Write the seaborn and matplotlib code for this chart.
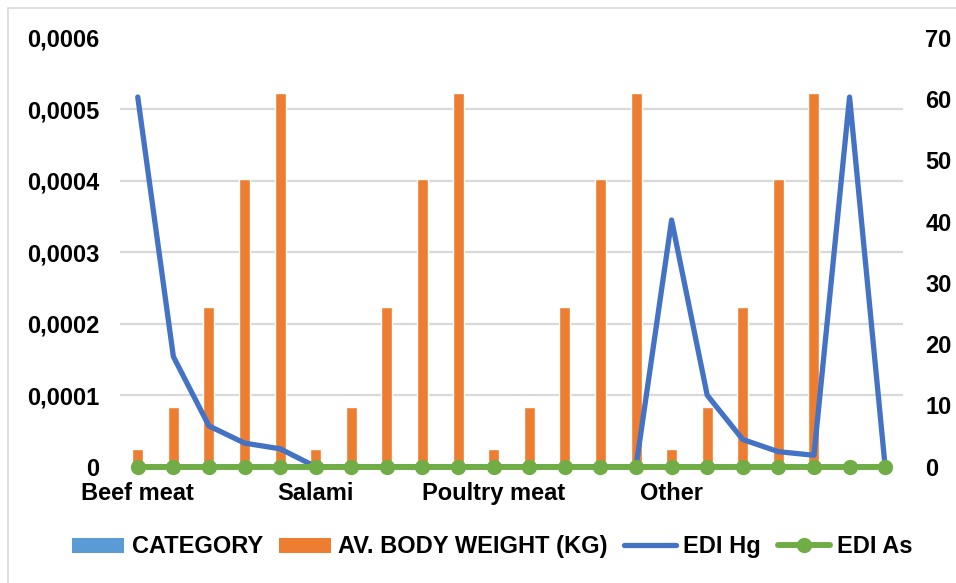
import numpy as np
import pandas as pd
import matplotlib
matplotlib.use("Agg")
import matplotlib.pyplot as plt
from matplotlib.patches import Patch
from matplotlib.lines import Line2D
import seaborn as sns

# Data
category_labels = ["Beef meat", "", "", "", "", "Salami", "", "", "", "",
                   "Poultry meat", "", "", "", "", "Other", "", "", "", "", "", ""]
body_weight = [2.9, 9.8, 26, 47, 61, 2.9, 9.8, 26, 47, 61,
               2.9, 9.8, 26, 47, 61, 2.9, 9.8, 26, 47, 61, np.nan, np.nan]
edi_hg = [0.000517, 0.000154, 0.000057, 0.000033, 0.000025, 0.0, 0.0, 0.0, 0.0, 0.0,
          0.0, 0.0, 0.0, 0.0, 0.0, 0.000345, 0.0001, 0.000038, 0.000021, 0.000016,
          0.000517, 0.0]
edi_as = [0.0] * 22

left_ticks = [0, 0.0001, 0.0002, 0.0003, 0.0004, 0.0005, 0.0006]
left_tick_labels = ["0", "0,0001", "0,0002", "0,0003", "0,0004", "0,0005", "0,0006"]
right_ticks = [0, 10, 20, 30, 40, 50, 60, 70]

ORANGE = "#ED7D31"
BLUE = "#4472C4"
GREEN = "#70AD47"
LIGHTBLUE = "#5B9BD5"
GRID = "#D9D9D9"

sns.set_style("white")
plt.rcParams["font.family"] = ["Liberation Sans", "DejaVu Sans"]
plt.rcParams["font.weight"] = "bold"
plt.rcParams["text.color"] = "black"
plt.rcParams["xtick.color"] = "black"
plt.rcParams["ytick.color"] = "black"

df = pd.DataFrame({
    "pos": np.arange(len(category_labels)),
    "weight": body_weight,
    "hg": edi_hg,
    "as_": edi_as,
})

fig = plt.figure(figsize=(9.56, 5.83), dpi=100)
ax = fig.add_axes([0.1255, 0.1995, 0.819, 0.7358])  # left scale, lines
ax2 = ax.twinx()                                    # right scale, bars

# bars on the right axis
sns.barplot(data=df, x="pos", y="weight", color=ORANGE, width=0.31,
            native_scale=True, saturation=1, ax=ax2)
ax2.set_ylim(0, 70)
ax2.set_yticks(right_ticks)
ax2.set_yticklabels([str(t) for t in right_ticks], fontsize=17, fontweight="bold")
# gridlines belong to the left scale but sit behind the bars
grid_vals = np.array(left_ticks) * 70 / 0.0006
ax2.set_yticks(grid_vals, minor=True)
ax2.yaxis.grid(True, which="minor", color=GRID, linewidth=1.6)
ax2.set_axisbelow(True)
ax2.tick_params(axis="y", which="both", length=0, pad=16)
ax2.set_ylabel("")
ax2.set_xlabel("")

# lines on the left axis, drawn over the bars
ax.set_zorder(ax2.get_zorder() + 1)
ax.patch.set_visible(False)
sns.lineplot(data=df, x="pos", y="hg", color=BLUE, linewidth=3.8, ax=ax,
             solid_capstyle="round", solid_joinstyle="round", clip_on=False, zorder=2)
sns.lineplot(data=df, x="pos", y="as_", color=GREEN, linewidth=4.3, marker="o",
             markersize=11, markeredgewidth=0, ax=ax, clip_on=False, zorder=3)
ax.set_ylim(0, 0.0006)
ax.set_xlim(-0.5, len(category_labels) - 0.5)
ax.set_yticks(left_ticks)
ax.set_yticklabels(left_tick_labels, fontsize=17, fontweight="bold")
ax.set_xticks(df["pos"])
ax.set_xticklabels(category_labels, fontsize=17, fontweight="bold")
ax.tick_params(axis="y", length=0, pad=15)
ax.tick_params(axis="x", length=0, pad=11)
ax.set_xlabel("")
ax.set_ylabel("")
ax2.set_xlim(-0.5, len(category_labels) - 0.5)

for a in (ax, ax2):
    for s in a.spines.values():
        s.set_visible(False)

handles = [
    Patch(facecolor=LIGHTBLUE, edgecolor="none"),
    Patch(facecolor=ORANGE, edgecolor="none"),
    Line2D([], [], color=BLUE, linewidth=3.8, solid_capstyle="round"),
    Line2D([], [], color=GREEN, linewidth=4.3, marker="o", markersize=11, markeredgewidth=0),
]
labels = ["CATEGORY", "AV. BODY WEIGHT (KG)", "EDI Hg", "EDI As"]
fig.legend(handles, labels, loc="center", bbox_to_anchor=(0.515, 0.062), ncol=4,
           frameon=False, fontsize=17, handlelength=2.2, handleheight=0.6,
           handletextpad=0.3, columnspacing=0.7)

# chart border (light gray, top and left visible)
fig.add_artist(Line2D([8 / 956, 8 / 956], [0, 1 - 8 / 583], transform=fig.transFigure,
                      color=GRID, linewidth=1.2))
fig.add_artist(Line2D([8 / 956, 1], [1 - 8 / 583, 1 - 8 / 583], transform=fig.transFigure,
                      color=GRID, linewidth=1.2))

fig.savefig("out.png", dpi=100)
